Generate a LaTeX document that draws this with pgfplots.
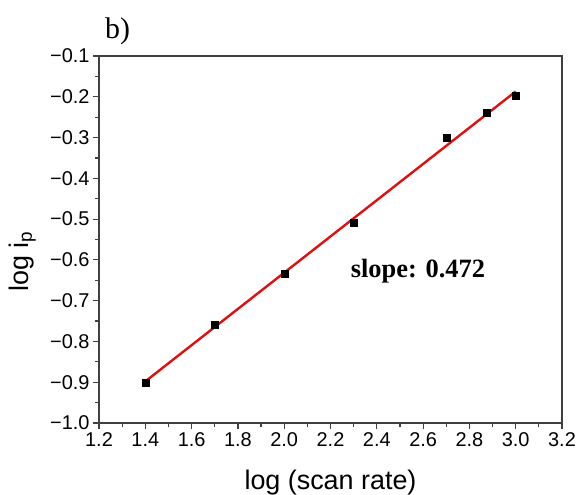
\documentclass[border=0pt]{standalone}
\usepackage{fontspec}
\setmainfont{Liberation Sans}
\newfontfamily\timesfont{Liberation Serif}
\usepackage{pgfplots}
\pgfplotsset{compat=1.18}

\definecolor{fitred}{RGB}{222,16,16}

\begin{document}
\begin{tikzpicture}
\useasboundingbox (-99bp,-72bp) rectangle (480bp,423bp);
\begin{axis}[
    at={(0,0)}, anchor=south west,
    scale only axis,
    width=463bp, height=367bp,
    xmin=1.2, xmax=3.2,
    ymin=-1.0, ymax=-0.1,
    xtick={1.2,1.4,1.6,1.8,2.0,2.2,2.4,2.6,2.8,3.0,3.2},
    xticklabels={1.2,1.4,1.6,1.8,2.0,2.2,2.4,2.6,2.8,3.0,3.2},
    ytick={-1.0,-0.9,-0.8,-0.7,-0.6,-0.5,-0.4,-0.3,-0.2,-0.1},
    yticklabels={−1.0,−0.9,−0.8,−0.7,−0.6,−0.5,−0.4,−0.3,−0.2,−0.1},
    minor tick num=1,
    tick pos=left,
    tick align=outside,
    major tick length=6bp,
    minor tick length=3.5bp,
    axis line style={black!75, line width=1.2bp},
    every tick/.style={black!75, line width=1.2bp},
    tick label style={font=\fontsize{20}{21}\selectfont},
    xlabel={log (scan rate)},
    ylabel={log i\textsubscript{p}},
    label style={font=\fontsize{27}{28}\selectfont},
    xlabel style={at={(rel axis cs:0.5,-0.18)}, anchor=base},
    ylabel style={at={(rel axis cs:-0.166,0.44)}, anchor=center},
    clip=false,
]
\addplot[only marks, mark=square*, mark size=3.5bp, black] coordinates {
    (1.4,-0.900) (1.7,-0.760) (2.0,-0.635) (2.3,-0.508)
    (2.7,-0.300) (2.875,-0.240) (3.0,-0.198)
};
\addplot[fitred, line width=2.4bp] coordinates {
    (1.4,-0.898) (3.0,-0.187)
};
\node[anchor=base west, inner sep=0pt, font=\timesfont\bfseries\fontsize{26.5}{28}\selectfont]
    at (axis cs:2.287,-0.642) {slope: 0.472};
\node[anchor=base west, inner sep=0pt, font=\timesfont\fontsize{30}{32}\selectfont]
    at (rel axis cs:0.013,1.049) {b)};
\end{axis}
\end{tikzpicture}
\end{document}
